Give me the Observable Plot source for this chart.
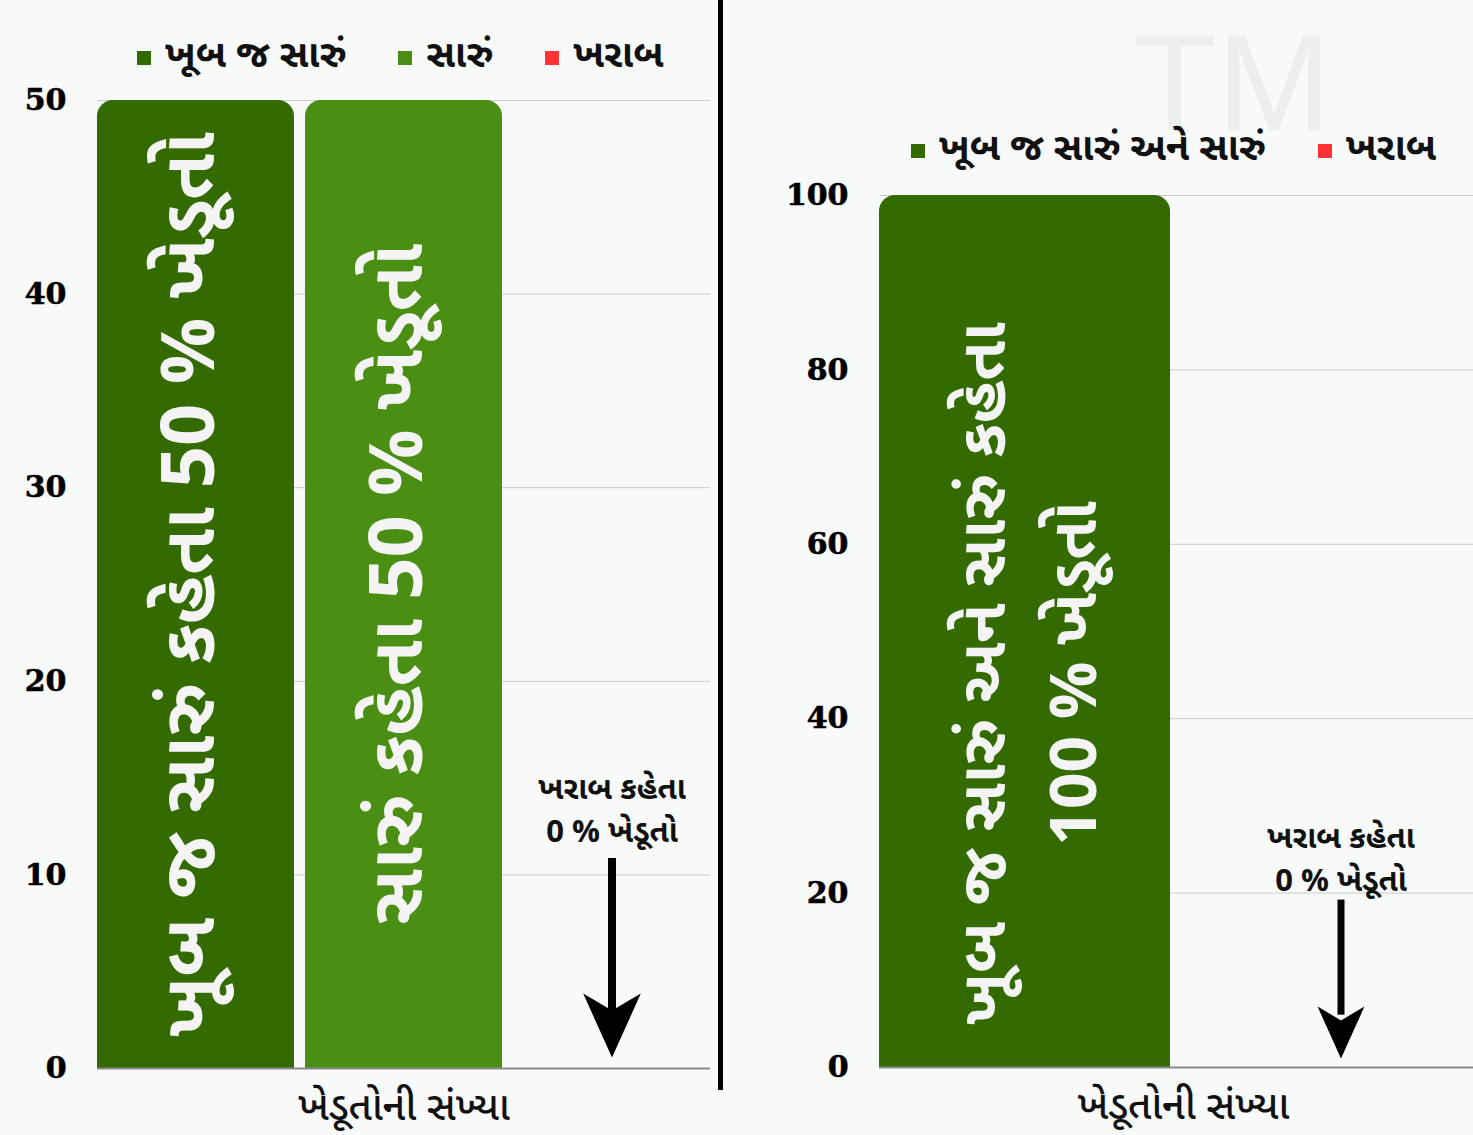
<!DOCTYPE html>
<html><head><meta charset="utf-8">
<script src="https://cdn.jsdelivr.net/npm/d3@7"></script>
<script src="https://cdn.jsdelivr.net/npm/@observablehq/plot@0.6"></script>
<style>
html,body{margin:0;padding:0;background:#f8f9f9;}
#wrap{position:relative;width:1473px;height:1135px;overflow:hidden;background:#f8f9f9;
  font-family:"Noto Sans Gujarati","Lohit Gujarati","Noto Sans",sans-serif;}
.legend{position:absolute;display:flex;align-items:center;gap:52px;font-size:38px;line-height:40px;font-weight:700;color:#111;white-space:nowrap;}
.legend .item{display:flex;align-items:center;}
.legend .sw{width:14px;height:14px;margin-right:14px;display:inline-block;}
.tm{position:absolute;left:1133px;top:4px;font-family:"Liberation Sans",sans-serif;font-size:137px;line-height:normal;color:#eeeeee;font-weight:400;}
.sep{position:absolute;left:718px;top:0;width:5px;height:1090px;background:#000;}
</style></head>
<body><div id="wrap"></div>
<script>
// ---------- data ----------
const leftCategories = ["ખૂબ જ સારું", "સારું", "ખરાબ"];
const leftValues = [50, 50, 0];
const leftColors = ["#336b00", "#4a8f14", "#ff3333"];
const leftBarLabels = ["ખૂબ જ સારું કહેતા 50 % ખેડૂતો", "સારું કહેતા 50 % ખેડૂતો", ""];
const leftTicks = [0, 10, 20, 30, 40, 50];

const rightCategories = ["ખૂબ જ સારું અને સારું", "ખરાબ"];
const rightValues = [100, 0];
const rightColors = ["#336b00", "#ff3333"];
const rightBarLabels = ["ખૂબ જ સારું અને સારું કહેતા\n100 % ખેડૂતો", ""];
const rightTicks = [0, 20, 40, 60, 80, 100];

const xAxisLabel = "ખેડૂતોની સંખ્યા";
const noteText = "ખરાબ કહેતા\n0 % ખેડૂતો";

// ---------- helpers ----------
const wrap = document.getElementById("wrap");
const GUJ = "'Noto Sans Gujarati','Lohit Gujarati','Noto Sans',sans-serif";
const NUM = "'DejaVu Serif',serif";

const arrowHead = {
  draw(ctx, size) {
    const r = Math.sqrt(size / Math.PI);
    ctx.moveTo(0, r);
    ctx.lineTo(-0.9 * r, -r);
    ctx.lineTo(0, -0.47 * r);
    ctx.lineTo(0.9 * r, -r);
    ctx.closePath();
  }
};

function panel({cats, vals, colors, labels, ticks, width, height, mLeft, mRight, mTop, mBottom,
                padding, noteY, arrowTop, arrowBottom, headY, headR, lineW,
                textSize, textDx, textDy, textLineHeight}) {
  const data = cats.map((c, i) => ({cat: c, value: vals[i], color: colors[i], label: labels[i]}));
  const bars = data.filter(d => d.value > 0);
  const zeroCat = data.find(d => d.value === 0).cat;
  return Plot.plot({
    width, height,
    marginLeft: mLeft, marginRight: mRight, marginTop: mTop, marginBottom: mBottom,
    style: {background: "transparent", fontFamily: GUJ, overflow: "visible"},
    x: {domain: cats, paddingInner: padding, paddingOuter: 0, align: 0, axis: null},
    y: {domain: [0, ticks[ticks.length - 1]], axis: null},
    marks: [
      Plot.ruleY(ticks.filter(t => t > 0), {stroke: "#cccccc", strokeWidth: 1}),
      Plot.barY(bars, {x: "cat", y: "value", fill: "color", rx: 16}),
      Plot.barY(bars, {x: "cat", y: d => d.value * 0.9, fill: "color"}),
      Plot.ruleY([0], {stroke: "#8a8a8a", strokeWidth: 2}),
      Plot.text(ticks, {y: d => d, text: d => String(d), frameAnchor: "left", textAnchor: "end",
                        dx: -31, fontSize: 30, fontWeight: "bold", fontFamily: NUM,
                        fill: "#000", stroke: "#000", strokeWidth: 0.6}),
      Plot.text(bars, {x: "cat", y: d => d.value / 2, text: "label", rotate: -90,
                       fill: "#f4f4f4", fontSize: textSize, fontWeight: "bold", dx: textDx, dy: textDy,
                       lineHeight: textLineHeight, fontFamily: GUJ}),
      Plot.text([noteText], {x: [zeroCat], y: [noteY], text: d => d, fontSize: 31,
                             fontWeight: "bold", lineHeight: 1.38, fill: "#111", fontFamily: GUJ}),
      Plot.ruleX([zeroCat], {x: d => d, y1: arrowTop, y2: arrowBottom, stroke: "#000", strokeWidth: lineW}),
      Plot.dot([zeroCat], {x: d => d, y: headY, r: headR, symbol: arrowHead, fill: "#000", stroke: "none"}),
      Plot.text([xAxisLabel], {frameAnchor: "bottom", dy: 51, fontSize: 40, fontWeight: 500,
                               fill: "#111", fontFamily: GUJ})
    ]
  });
}

function legend(items, left, top) {
  const div = document.createElement("div");
  div.className = "legend";
  div.style.left = left + "px";
  div.style.top = top + "px";
  items.forEach(([label, color]) => {
    const it = document.createElement("div");
    it.className = "item";
    const sw = document.createElement("span");
    sw.className = "sw";
    sw.style.background = color;
    const tx = document.createElement("span");
    tx.textContent = label;
    it.append(sw, tx);
    div.append(it);
  });
  wrap.append(div);
}

// watermark
const tm = document.createElement("div");
tm.className = "tm"; tm.textContent = "TM";
wrap.append(tm);

// left panel
const left = panel({
  cats: leftCategories, vals: leftValues, colors: leftColors, labels: leftBarLabels, ticks: leftTicks,
  width: 715, height: 1135, mLeft: 97, mRight: 5, mTop: 100, mBottom: 67, padding: 0.055,
  noteY: 13.5, arrowTop: 10.85, arrowBottom: 2.5, headY: 2.22, headR: 32, lineW: 8,
  textSize: 74, textDx: -20, textDy: 0, textLineHeight: 1.6
});
left.style.position = "absolute"; left.style.left = "0px"; left.style.top = "0px";
wrap.append(left);

// right panel
const right = panel({
  cats: rightCategories, vals: rightValues, colors: rightColors, labels: rightBarLabels, ticks: rightTicks,
  width: 760, height: 1135, mLeft: 154, mRight: -2, mTop: 195, mBottom: 68, padding: 0.078,
  noteY: 24.3, arrowTop: 19.2, arrowBottom: 6, headY: 4.0, headR: 26, lineW: 7,
  textSize: 64, textDx: -4, textDy: 42, textLineHeight: 1.42
});
right.style.position = "absolute"; right.style.left = "725px"; right.style.top = "0px";
wrap.append(right);

const sep = document.createElement("div");
sep.className = "sep";
wrap.append(sep);

legend(leftCategories.map((c, i) => [c, leftColors[i]]), 137, 38);
legend(rightCategories.map((c, i) => [c, rightColors[i]]), 911, 131);
</script>
</body></html>
